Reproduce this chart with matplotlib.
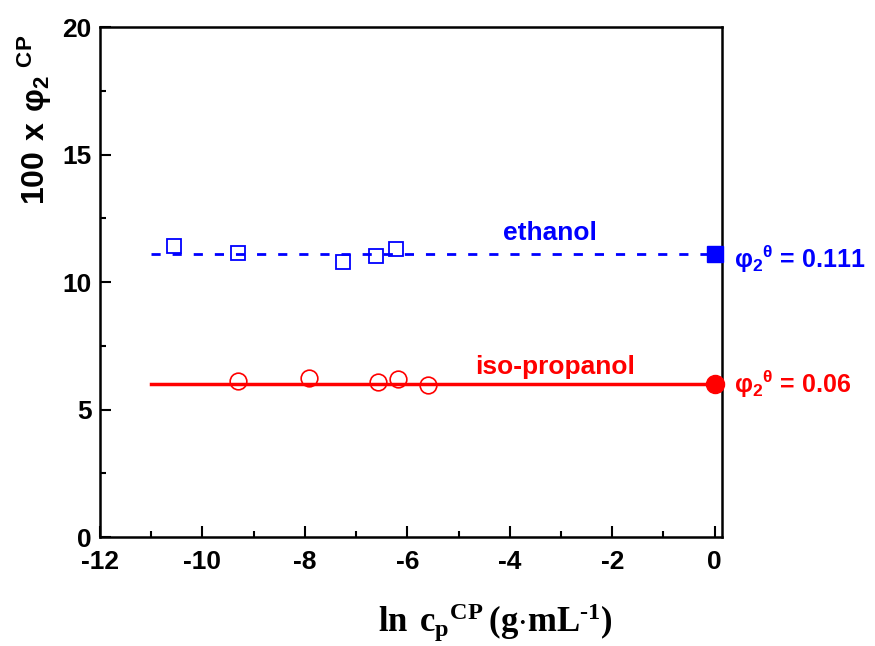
import numpy as np
import matplotlib
matplotlib.use("Agg")
import matplotlib.pyplot as plt

# fonts: sans bold for ticks / ylabel, serif bold for the x label
plt.rcParams['font.family'] = ['Liberation Sans', 'DejaVu Sans']
plt.rcParams['font.weight'] = 'bold'
plt.rcParams['axes.unicode_minus'] = False
plt.rcParams['mathtext.fontset'] = 'custom'
plt.rcParams['mathtext.bf'] = 'Liberation Sans:bold'
plt.rcParams['mathtext.rm'] = 'Liberation Serif:bold'

# ethanol points
eth_x = [-10.55, -9.3, -7.25, -6.62, -6.22]
eth_y = [11.4, 11.12, 10.8, 11.02, 11.3]
eth_fit = 11.1

# iso-propanol points
iso_x = [-9.3, -7.92, -6.58, -6.19, -5.6]
iso_y = [6.12, 6.24, 6.08, 6.2, 5.96]
iso_fit = 6.0

line_x = [-11, 0]

fig = plt.figure(figsize=(8.75, 6.46), dpi=100)
ax = fig.add_axes([0.1143, 0.1687, 0.7107, 0.7895])

# ethanol
ax.plot(line_x, [eth_fit, eth_fit], color='#0000ff', lw=2, ls=(0, (3.3, 4.3)))
ax.plot(eth_x, eth_y, 's', ms=9.5, mfc='none', mec='#0000ff', mew=1.3)
ax.plot([0], [eth_fit], 's', ms=11, color='#0000ff', clip_on=False, zorder=5)

# iso-propanol
ax.plot(line_x, [iso_fit, iso_fit], color='#ff0000', lw=2.5)
ax.plot(iso_x, iso_y, 'o', ms=12, mfc='none', mec='#ff0000', mew=1.2)
ax.plot([0], [iso_fit], 'o', ms=13, color='#ff0000', clip_on=False, zorder=5)

ax.text(-3.21, 11.65, 'ethanol', color='#0000ff', fontsize=19, fontweight='bold',
        ha='center', va='baseline')
ax.text(-3.11, 6.4, 'iso-propanol', color='#ff0000', fontsize=19, fontweight='bold',
        ha='center', va='baseline')

ax.text(1.02, 0.545, r'$\mathbf{φ_2{}^{θ}}$ = 0.111', transform=ax.transAxes,
        color='#0000ff', fontsize=18, fontweight='bold', ha='left', va='center')
ax.text(1.02, 0.30, r'$\mathbf{φ_2{}^{θ}}$ = 0.06', transform=ax.transAxes,
        color='#ff0000', fontsize=18, fontweight='bold', ha='left', va='center')

ax.set_xlim(-12, 0.14)
ax.set_ylim(0, 20)
ax.set_xticks(np.arange(-12, 1, 2))
ax.set_xticks(np.arange(-11, 0, 2), minor=True)
ax.set_yticks([0, 5, 10, 15, 20])
ax.set_yticks([2.5, 7.5, 12.5, 17.5], minor=True)
ax.tick_params(which='both', direction='in', width=1.5, labelsize=19)
ax.tick_params(axis='x', pad=9)
ax.tick_params(axis='y', pad=6)
ax.tick_params(which='major', length=8)
ax.tick_params(which='minor', length=4)
for lab in ax.get_xticklabels() + ax.get_yticklabels():
    lab.set_fontweight('bold')
for sp in ax.spines.values():
    sp.set_linewidth(1.8)

# axis titles placed like the original (not centred on the axes)
fig.text(0.040, 0.814, r'$\mathbf{100\ x\ φ_2{}^{\ CP}}$', fontsize=23,
         rotation=90, ha='center', va='center')
fig.text(0.566, 0.022, r'$\mathrm{ln\ c_p{}^{CP}\,(g{\cdot}mL^{\text{-}1})}$', fontsize=25,
         ha='center', va='baseline')

fig.savefig('out.png', dpi=100)
